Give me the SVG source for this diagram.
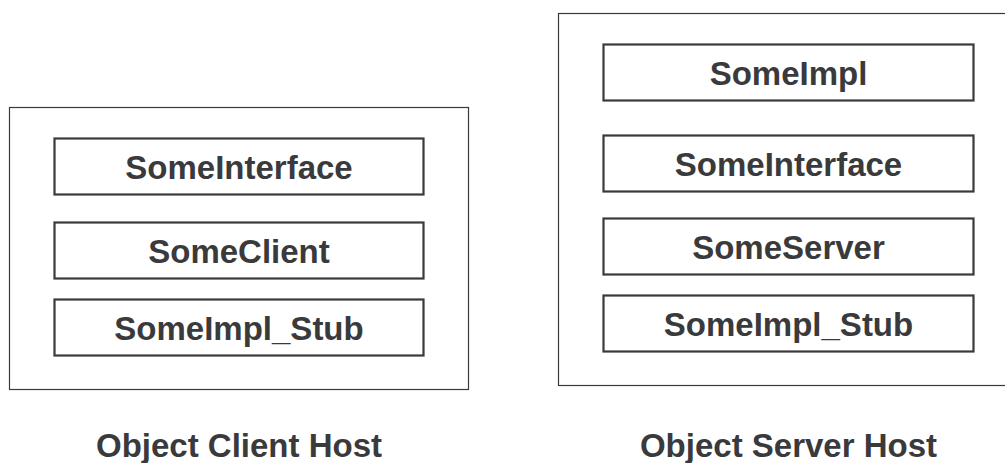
<svg xmlns="http://www.w3.org/2000/svg" width="1005" height="463" viewBox="0 0 1005 463">
<style>
.host{fill:#fff;stroke:#3a3a3c;stroke-width:1.2}
.box{fill:#fff;stroke:#3a3a3c;stroke-width:2.2}
text{font-family:"Liberation Sans",Arial,Helvetica,sans-serif;font-weight:bold;font-size:33px;fill:#3a3a3c;text-anchor:middle}
</style>
<rect width="1005" height="463" fill="#fff"/>
<g id="client-host">
<rect class="host" x="9.5" y="107.5" width="459" height="282"/>
<text x="239" y="456.5">Object Client Host</text>
</g>
<g id="client-someinterface">
<rect class="box" x="54.5" y="138.5" width="369" height="56"/>
<text x="239" y="178.5">SomeInterface</text>
</g>
<g id="client-someclient">
<rect class="box" x="54.5" y="222.5" width="369" height="56"/>
<text x="239" y="262.5">SomeClient</text>
</g>
<g id="client-stub">
<rect class="box" x="54.5" y="299.5" width="369" height="56"/>
<text x="239" y="339.5">SomeImpl_Stub</text>
</g>
<g id="server-host">
<rect class="host" x="558.5" y="13.5" width="460" height="372"/>
<text x="788.5" y="456.5">Object Server Host</text>
</g>
<g id="server-someimpl">
<rect class="box" x="603.5" y="44.5" width="370" height="56"/>
<text x="788.5" y="84.5">SomeImpl</text>
</g>
<g id="server-someinterface">
<rect class="box" x="603.5" y="135.5" width="370" height="56"/>
<text x="788.5" y="175.5">SomeInterface</text>
</g>
<g id="server-someserver">
<rect class="box" x="603.5" y="218.5" width="370" height="56"/>
<text x="788.5" y="258.5">SomeServer</text>
</g>
<g id="server-stub">
<rect class="box" x="603.5" y="295.5" width="370" height="56"/>
<text x="788.5" y="335.5">SomeImpl_Stub</text>
</g>
<g id="connectors"></g>
</svg>
